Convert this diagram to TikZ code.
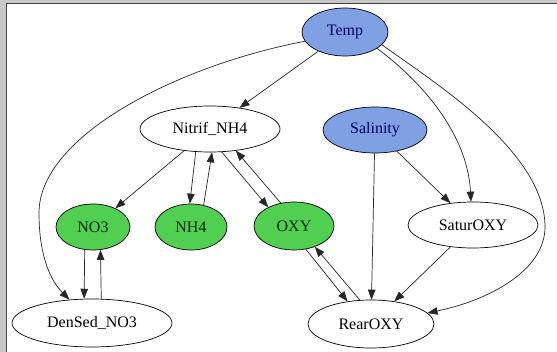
\documentclass[tikz,border=0pt]{standalone}
\usepackage{fontspec}
\newfontfamily\nodefont{Liberation Serif}
\usetikzlibrary{arrows.meta,shapes.geometric}
\definecolor{bluefill}{HTML}{7FA1E3}
\definecolor{greenfill}{HTML}{50CF50}
\definecolor{framegray}{HTML}{C8C8C8}
\definecolor{frameline}{HTML}{444444}
\begin{document}
\begin{tikzpicture}[x=1pt,y=-1pt,
  vnode/.style={ellipse,draw=black,line width=0.7pt,inner sep=0pt,font=\nodefont\fontsize{16}{19}\selectfont},
  bluenode/.style={vnode,fill=bluefill,text=blue!40!black},
  greennode/.style={vnode,fill=greenfill,text=green!15!black},
  edge/.style={-{Triangle[length=10pt,width=7.5pt]},line width=0.7pt,black!85}]
\useasboundingbox (0,0) rectangle (557,352);
\fill[framegray] (0,0) rectangle (557,3);
\fill[framegray] (0,0) rectangle (6,352);
\fill[white] (7,4) rectangle (557,352);
\draw[frameline,line width=1.2pt] (6.5,352) -- (6.5,3.5) -- (557,3.5);
% nodes
\node[bluenode,minimum width=86pt,minimum height=48pt] (Temp) at (345,32) {Temp};
\node[vnode,minimum width=140pt,minimum height=46pt] (Nitrif) at (210,129) {Nitrif\_NH4};
\node[bluenode,minimum width=104pt,minimum height=46pt] (Sal) at (375,130) {Salinity};
\node[greennode,minimum width=74pt,minimum height=46pt] (NO3) at (93,227) {NO3};
\node[greennode,minimum width=72pt,minimum height=46pt] (NH4) at (191,227) {NH4};
\node[greennode,minimum width=80pt,minimum height=48pt] (OXY) at (294,226) {OXY};
\node[vnode,minimum width=130pt,minimum height=46pt] (Satur) at (473,225) {SaturOXY};
\node[vnode,minimum width=160pt,minimum height=48pt] (DenSed) at (92,323) {DenSed\_NO3};
\node[vnode,minimum width=126pt,minimum height=48pt] (Rear) at (371,324) {RearOXY};
% edges
\draw[edge] (Temp) -- (Nitrif);
\draw[edge] (Temp.-167) .. controls (180,65) and (39,135) .. (39,213)
  .. controls (39,255) and (50,280) .. (DenSed.134);
\draw[edge] (Temp.-27) .. controls (430,88) and (468,140) .. (Satur.95);
\draw[edge] (Temp.-19) .. controls (430,80) and (545,150) .. (545,227)
  .. controls (545,270) and (490,300) .. (Rear.11);
\draw[edge] (Nitrif) -- (NO3);
\draw[edge] (Nitrif.-122) -- (NH4.93);
\draw[edge] (NH4.60) -- (Nitrif.-85);
\draw[edge] (Nitrif.-63) -- (OXY.144);
\draw[edge] (OXY.120) -- (Nitrif.-40);
\draw[edge] (Sal) -- (Rear);
\draw[edge] (Sal) -- (Satur);
\draw[edge] (NO3.-110) -- (DenSed.108);
\draw[edge] (DenSed.69) -- (NO3.-72);
\draw[edge] (OXY.-63) -- (Rear.136);
\draw[edge] (Rear.115) -- (OXY.-45);
\draw[edge] (Satur) -- (Rear);
\end{tikzpicture}
\end{document}
